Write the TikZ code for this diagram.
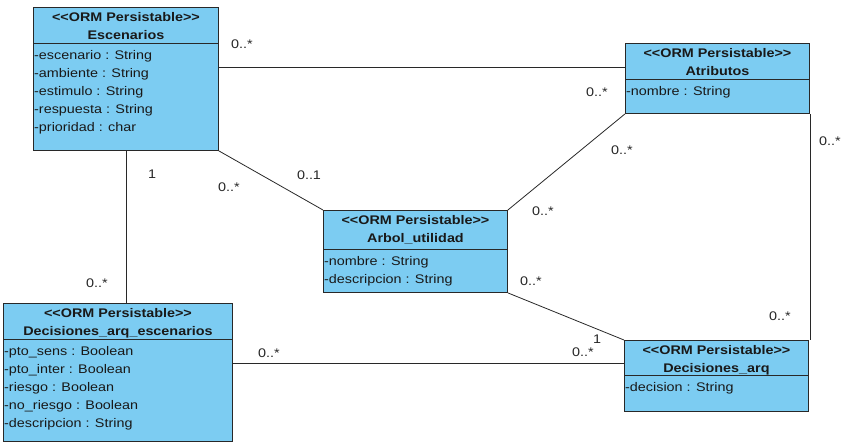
\documentclass[tikz,border=0pt]{standalone}
\usepackage{fontspec}
\setmainfont{Liberation Sans}[FakeStretch=1.15]
\usetikzlibrary{calc}
\definecolor{classfill}{RGB}{124,204,242}
\definecolor{edge}{RGB}{40,40,40}
\tikzset{
  classbox/.style={draw=edge, line width=0.9pt, fill=classfill, inner sep=0pt, rectangle},
  hdr/.style={align=center, inner sep=0pt, font=\fontsize{12.5}{18}\selectfont\bfseries, text=black!90},
  attr/.style={align=left, inner sep=0pt, font=\fontsize{12.5}{18}\selectfont, text=black!90},
  mult/.style={inner sep=0pt, font=\fontsize{12.5}{14}\selectfont, text=black!85},
  assoc/.style={draw=edge, line width=0.8pt},
}
% name, x, y, width, height, header height, class name, attributes
\newcommand\umlclass[8]{%
  \node[classbox, minimum width=#4pt, minimum height=#5pt, anchor=north west] (#1) at (#2,#3) {};
  \draw[edge, line width=0.8pt] ($(#1.north west)+(0,#6)$) -- ($(#1.north east)+(0,#6)$);
  \node[hdr, anchor=north] (#1-h) at ($(#1.north)+(0,5)$) {<{}<ORM Persistable>{}>\\#7};
  \node[attr, anchor=north west] (#1-a) at ($(#1.north west)+(1,#6+7)$) {#8};
}
\begin{document}
\begin{tikzpicture}[x=1pt, y=-1pt]
\useasboundingbox (0,0) rectangle (844,447);

\umlclass{esc}{33}{7}{185}{143}{36}{Escenarios}{-escenario : String\\-ambiente : String\\-estimulo : String\\-respuesta : String\\-prioridad : char}
\umlclass{atr}{625}{43}{184}{70}{36}{Atributos}{-nombre : String}
\umlclass{arb}{323}{210}{184}{82}{39}{Arbol\_utilidad}{-nombre : String\\-descripcion : String}
\umlclass{dae}{3}{303}{229}{138}{36}{Decisiones\_arq\_escenarios}{-pto\_sens : Boolean\\-pto\_inter : Boolean\\-riesgo : Boolean\\-no\_riesgo : Boolean\\-descripcion : String}
\umlclass{dar}{624}{340}{184}{71}{35}{Decisiones\_arq}{-decision : String}

% association end points on the class borders
\coordinate (escR) at ($(esc.north east)+(0,60)$);
\coordinate (escB) at ($(esc.south west)+(93,0)$);
\coordinate (daeR) at ($(dae.north east)+(0,60)$);

% associations
\draw[assoc] (escR) -- (escR -| atr.west);
\draw[assoc] (esc.south east) -- (arb.north west);
\draw[assoc] (arb.north east) -- (atr.south west);
\draw[assoc] (arb.south east) -- (dar.north west);
\draw[assoc] (atr.south east) -- (atr.south east |- dar.north);
\draw[assoc] (escB) -- (escB |- dae.north);
\draw[assoc] (daeR) -- (daeR -| dar.west);

% multiplicities
\node[mult] (m1) at (242,44) {0..*};
\node[mult] (m2) at (597,92) {0..*};
\node[mult] (m3) at (622,150) {0..*};
\node[mult] (m4) at (830,141) {0..*};
\node[mult] (m5) at (152,174) {1};
\node[mult] (m6) at (229,187) {0..*};
\node[mult] (m7) at (309,175) {0..1};
\node[mult] (m8) at (543,211) {0..*};
\node[mult] (m9) at (531,281) {0..*};
\node[mult] (m10) at (97,283) {0..*};
\node[mult] (m11) at (269,353) {0..*};
\node[mult] (m12) at (583,352) {0..*};
\node[mult] (m13) at (597,339) {1};
\node[mult] (m14) at (780,316) {0..*};
\end{tikzpicture}
\end{document}
